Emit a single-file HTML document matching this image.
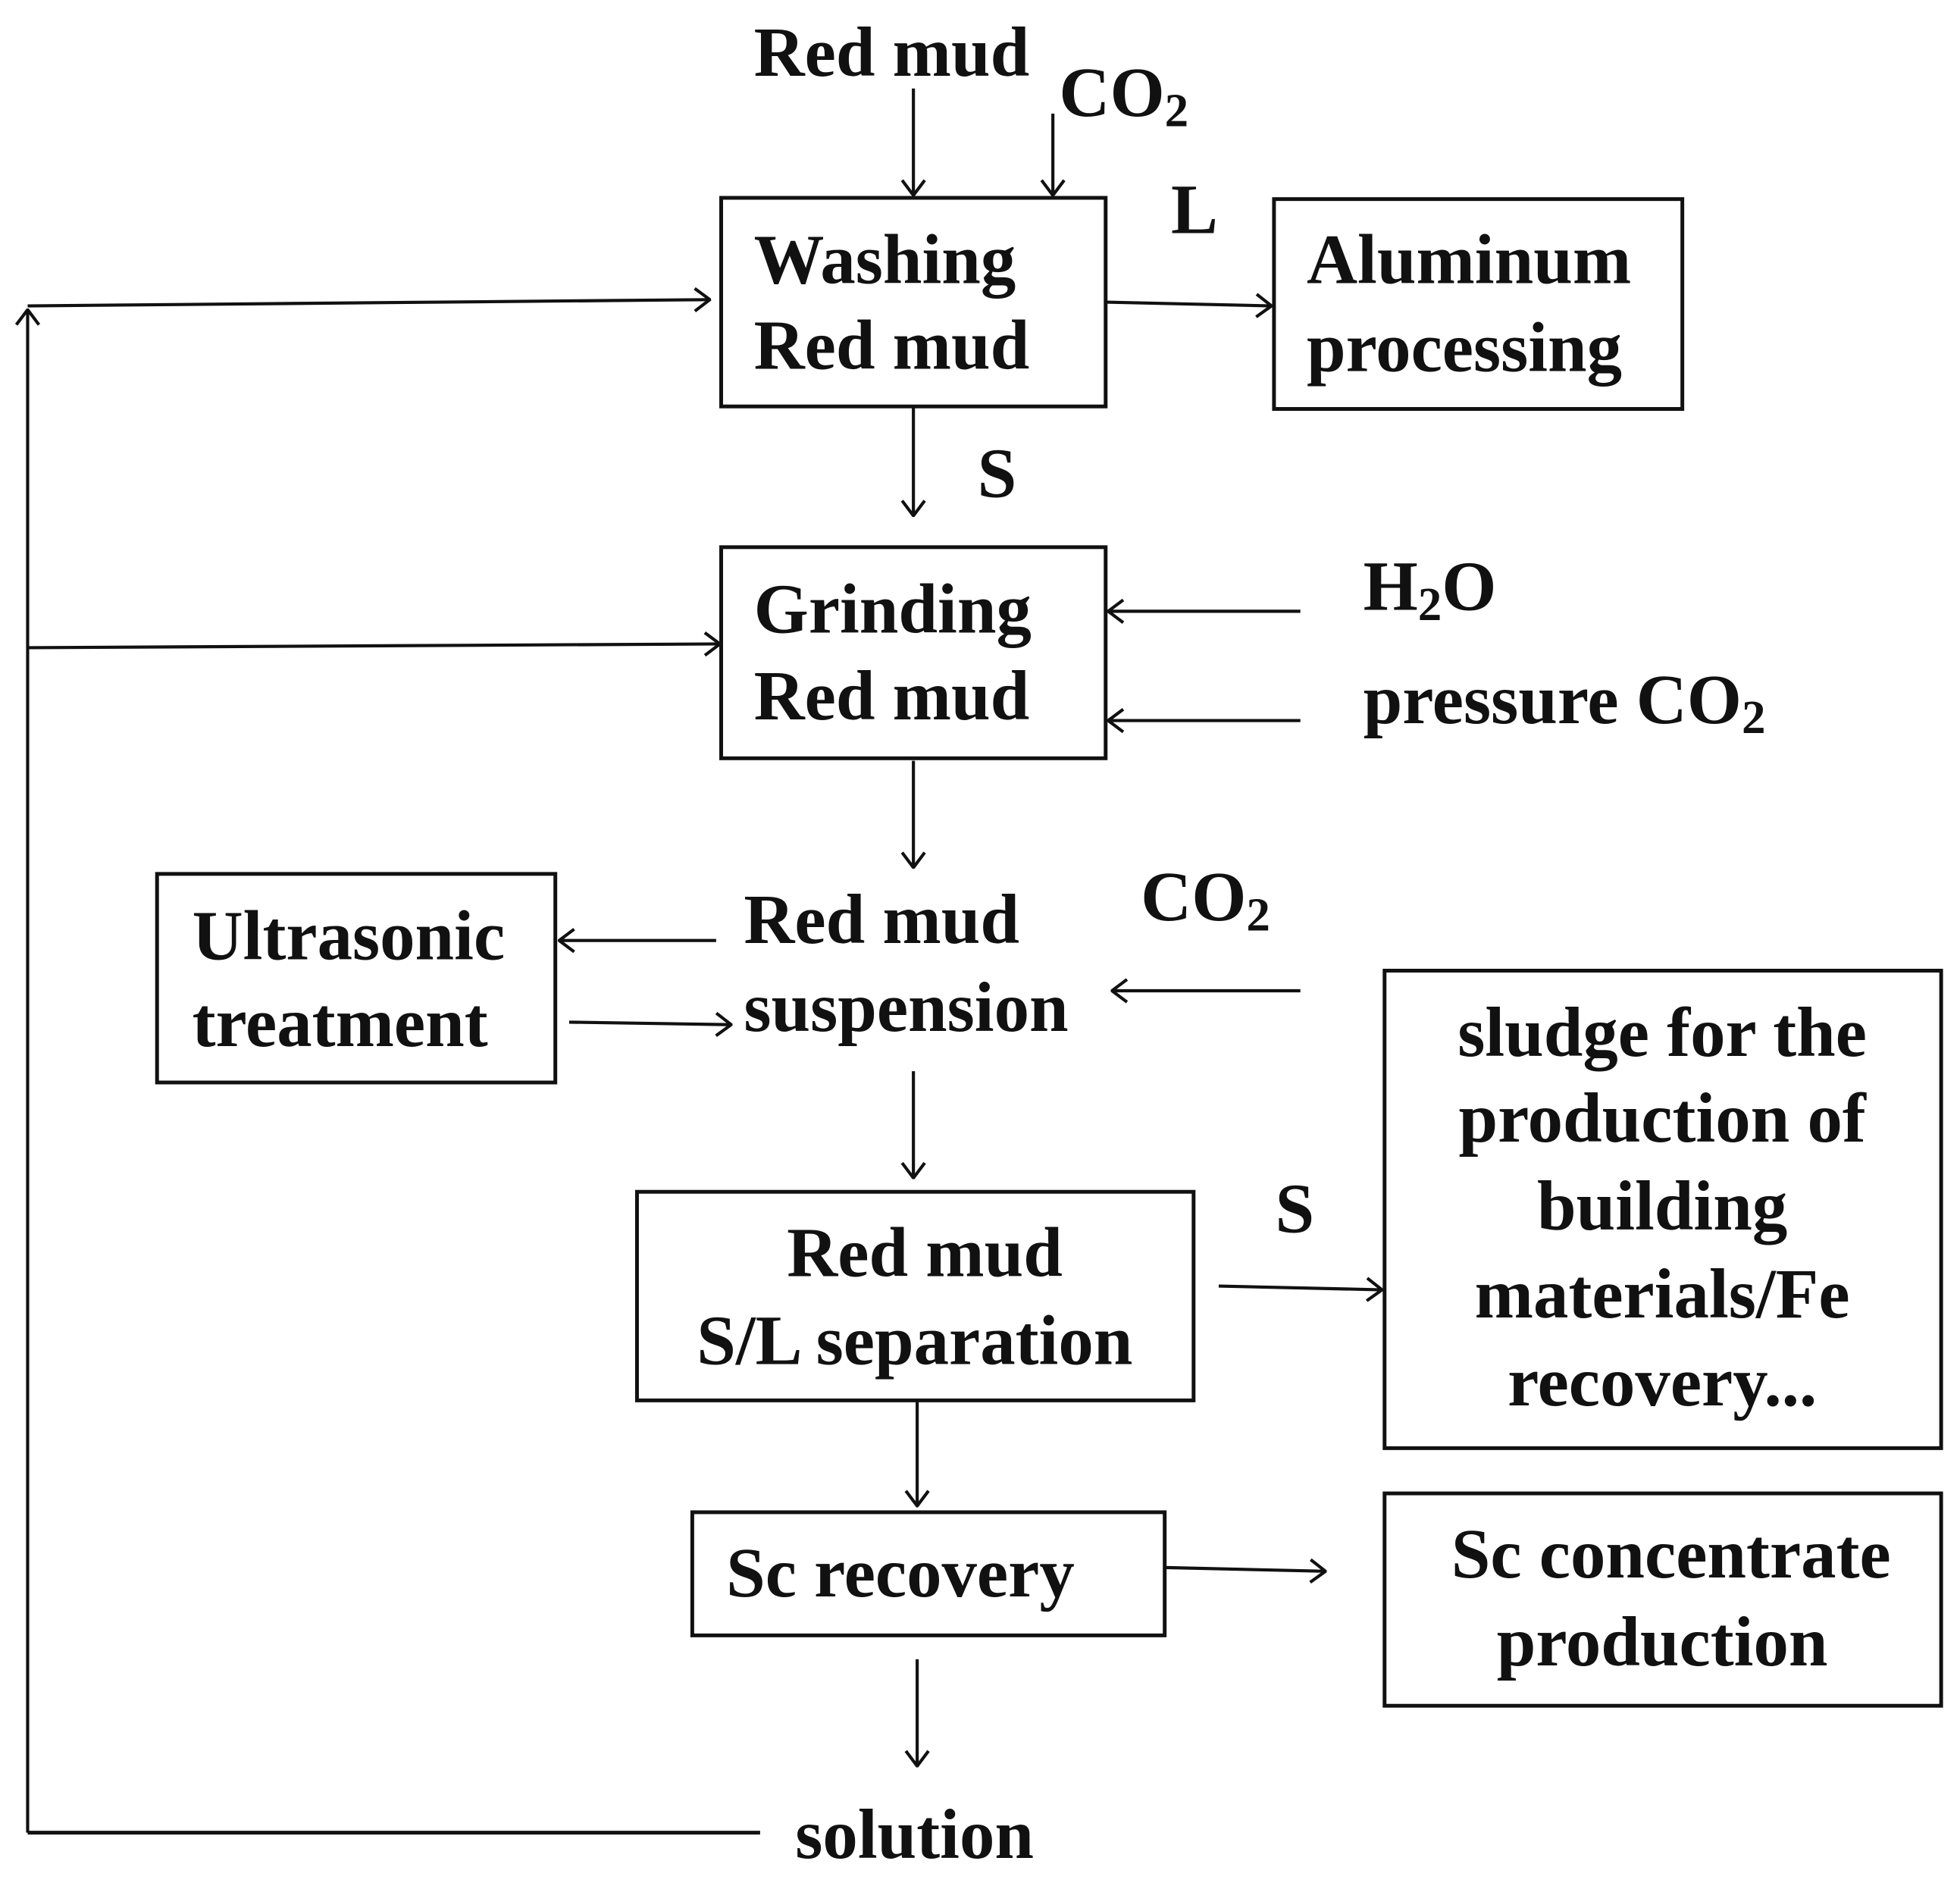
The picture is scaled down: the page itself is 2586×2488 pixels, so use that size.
<!DOCTYPE html>
<html><head><meta charset="utf-8"><style>
html,body{margin:0;padding:0;background:#fff;}
svg{display:block;}
text{font-family:"Liberation Serif",serif;font-weight:bold;font-size:56px;fill:#111;}
</style></head><body>
<svg width="2586" height="2488" viewBox="0 0 1560 1500" xmlns="http://www.w3.org/2000/svg">
<defs>
<marker id="a" markerWidth="14" markerHeight="20" refX="13" refY="10" orient="auto" markerUnits="userSpaceOnUse">
<path d="M1,1 L13,10 L1,19" fill="none" stroke="#111" stroke-width="2.5"/>
</marker>
</defs>
<g fill="none" stroke="#111" stroke-width="3">
<rect x="574" y="157" width="306" height="166"/>
<rect x="1014" y="158" width="325" height="167"/>
<rect x="574" y="435" width="306" height="168"/>
<rect x="125" y="695" width="317" height="166"/>
<rect x="507" y="948" width="443" height="166"/>
<rect x="1102" y="772" width="443" height="380"/>
<rect x="551" y="1203" width="376" height="98"/>
<rect x="1102" y="1188" width="443" height="169"/>
</g>
<g fill="none" stroke="#111" stroke-width="2.5" marker-end="url(#a)">
<line x1="727" y1="70" x2="727" y2="155"/>
<line x1="838" y1="90" x2="838" y2="155"/>
<line x1="880" y1="240" x2="1012" y2="243"/>
<line x1="22" y1="1458" x2="22" y2="246"/>
<line x1="22" y1="243" x2="565" y2="238"/>
<line x1="22" y1="515" x2="573" y2="512"/>
<line x1="727" y1="323" x2="727" y2="410"/>
<line x1="1035" y1="486" x2="882" y2="486"/>
<line x1="1035" y1="573" x2="882" y2="573"/>
<line x1="727" y1="605" x2="727" y2="690"/>
<line x1="570" y1="748" x2="445" y2="748"/>
<line x1="453" y1="813" x2="582" y2="815"/>
<line x1="1035" y1="788" x2="885" y2="788"/>
<line x1="727" y1="852" x2="727" y2="937"/>
<line x1="970" y1="1023" x2="1100" y2="1026"/>
<line x1="730" y1="1114" x2="730" y2="1198"/>
<line x1="927" y1="1247" x2="1055" y2="1250"/>
<line x1="730" y1="1320" x2="730" y2="1405"/>
</g>
<line x1="22" y1="1458" x2="605" y2="1458" stroke="#111" stroke-width="3"/>
<text x="600" y="60">Red mud</text>
<text x="843" y="92">CO<tspan font-size="38" dy="8">2</tspan></text>
<text x="600" y="225">Washing</text>
<text x="600" y="293">Red mud</text>
<text x="932" y="185">L</text>
<text x="1040" y="225">Aluminum</text>
<text x="1040" y="295">processing</text>
<text x="778" y="395">S</text>
<text x="600" y="503">Grinding</text>
<text x="600" y="572">Red mud</text>
<text x="1085" y="485">H<tspan font-size="38" dy="8">2</tspan><tspan dy="-8">O</tspan></text>
<text x="1085" y="575">pressure CO<tspan font-size="38" dy="8">2</tspan></text>
<text x="908" y="732">CO<tspan font-size="38" dy="8">2</tspan></text>
<text x="592" y="750">Red mud</text>
<text x="592" y="820">suspension</text>
<text x="153" y="763">Ultrasonic</text>
<text x="153" y="832">treatment</text>
<text x="736" y="1015" text-anchor="middle">Red mud</text>
<text x="728" y="1085" text-anchor="middle">S/L separation</text>
<text x="1015" y="980">S</text>
<g text-anchor="middle">
<text x="1323" y="840">sludge for the</text>
<text x="1323" y="908">production of</text>
<text x="1323" y="978">building</text>
<text x="1323" y="1048">materials/Fe</text>
<text x="1323" y="1118">recovery...</text>
<text x="1330" y="1255">Sc concentrate</text>
<text x="1323" y="1325">production</text>
</g>
<text x="578" y="1270">Sc recovery</text>
<text x="633" y="1478">solution</text>
</svg>
</body></html>
